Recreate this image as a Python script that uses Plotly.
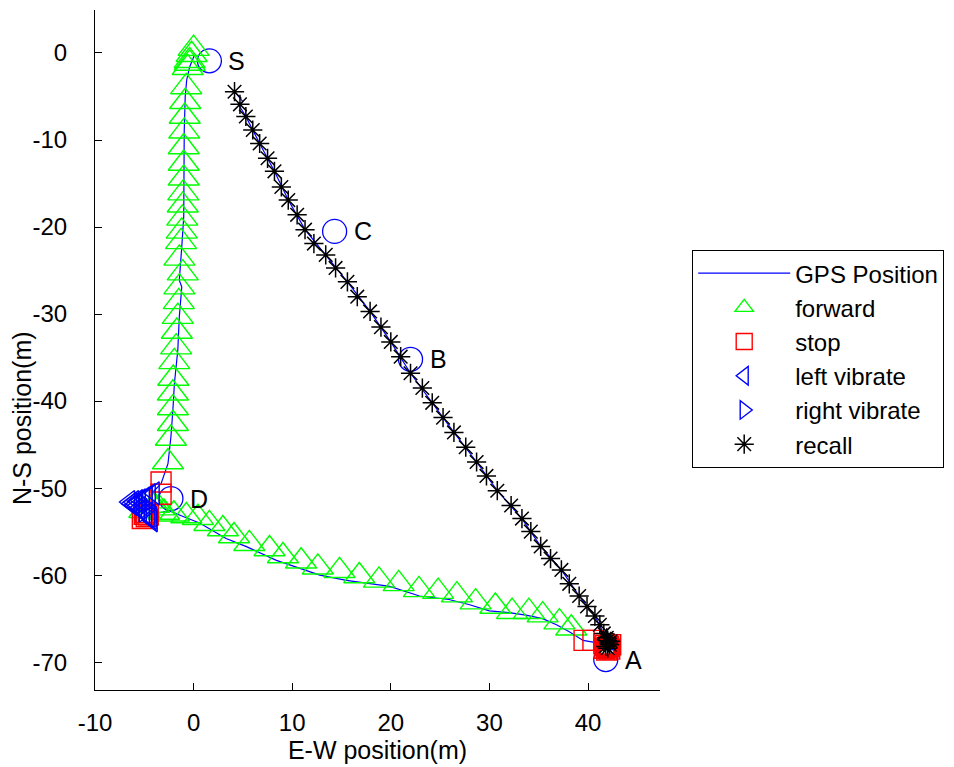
import plotly.graph_objects as go

# ---------------- data (metres) ----------------
gps_x = [0.1, -0.4, -0.7, -0.85, -0.95, -0.95, -1.0, -1.2, -1.45, -1.2, -1.45, -1.6, -1.95, -2.1,
         -2.3, -2.6, -3.3, -4.0, -4.6, -5.2, -5.0, -4.2, -3.3, -2.5, -1.0, 0.6, 3.3, 5.3, 8.4, 10.0,
         12.8, 15.5, 17.8, 19.9, 22.9, 25.9, 28.0, 30.0, 32.0, 33.7, 35.4, 36.8, 38.1, 39.5, 40.5,
         41.5, 42.0, 42.2, 41.6, 40.7, 39.1, 37.3, 35.2, 33.3, 30.8, 28.7, 26.4, 24.2, 22.0, 20.0,
         17.9, 15.6, 13.4, 11.3, 9.6, 8.2, 6.7, 5.3, 4.6, 5.0, 4.15]
gps_y = [-0.2, -1.6, -3.1, -5.0, -8.9, -14.6, -18.8, -22.3, -26.1, -26.9, -30.3, -34.1, -38.0, -41.0,
         -44.1, -47.2, -49.5, -50.3, -51.2, -52.2, -53.0, -53.0, -52.8, -52.6, -53.3, -54.0, -55.8, -56.7, -58.3, -58.9,
         -60.0, -60.6, -61.0, -61.3, -62.4, -62.8, -63.4, -64.1, -64.3, -64.6, -65.0, -65.7, -66.5, -67.5, -67.7,
         -68.0, -68.3, -68.0, -66.7, -64.7, -62.4, -59.4, -56.7, -53.5, -50.3, -47.0, -43.6, -40.2, -36.8, -33.2,
         -29.7, -26.3, -23.2, -20.3, -16.9, -13.6, -10.4, -7.3, -6.0, -5.6, -4.45]

forward_x = [0.0, -0.2, -0.4, -0.4, -0.6, -0.75, -0.85, -0.9, -0.95, -1.0, -1.0, -1.0, -1.05, -1.1,
             -1.15, -1.2, -1.27, -1.44, -1.1, -1.44, -1.5, -1.6, -1.7, -1.77, -1.96, -2.06, -2.1,
             -2.1, -2.1, -2.3, -2.6,
             -4.5, -4.0, -3.5, -5.0, -3.0, -2.0, -0.74, 0.44, 1.6, 2.97, 4.1, 5.65, 7.7, 9.06, 10.9,
             12.6, 14.8, 16.8, 18.8, 20.8, 22.85, 24.8, 26.7, 28.6, 30.6, 32.3, 34.0, 35.4, 37.1, 38.3]
forward_y = [0.5, -0.2, -0.9, -1.2, -1.7, -3.9, -5.6, -7.3, -9.0, -10.8, -12.7, -14.4, -16.1, -17.5,
             -19.0, -20.5, -21.7, -23.6, -25.3, -26.9, -28.6, -30.3, -32.0, -33.8, -35.5, -37.4, -39.1,
             -40.8, -42.6, -44.3, -47.0,
             -51.5, -52.0, -52.3, -52.6, -52.8, -53.0, -53.2, -53.4, -54.1, -54.7, -55.5, -56.4, -57.0, -57.8, -58.4,
             -59.1, -59.5, -60.1, -60.6, -61.0, -61.7, -61.9, -62.3, -63.1, -63.6, -64.2, -64.2, -64.6, -65.4, -66.1]

stop_x = [-3.3, -3.3, -5.0, -4.8, -5.2, -4.6, -4.9,
          39.6, 40.5, 41.6, 41.8, 42.0, 42.2, 41.9, 42.1, 41.7, 42.3]
stop_y = [-49.3, -50.7, -53.0, -53.3, -53.5, -53.1, -52.8,
          -67.5, -67.5, -67.9, -68.1, -68.3, -68.5, -68.6, -68.2, -68.4, -68.0]

left_x = [-6.5, -6.3, -6.0, -5.8, -5.5, -5.3, -5.0, -4.8, -4.5, -4.3, -4.2, -4.0, -4.4, -4.7,
          -5.0, -5.4, -5.7, -6.1]
left_y = [-51.6, -51.8, -51.95, -52.1, -52.3, -52.5, -52.8, -53.0, -53.2, -53.45, -53.7, -50.6,
          -50.8, -51.0, -51.2, -51.4, -51.5, -51.6]

right_x = [-5.0]
right_y = [-52.6]

recall_x = [4.15, 4.7, 5.3, 6.0, 6.7, 7.5, 8.2, 8.9, 9.6, 10.5, 11.3, 12.2, 13.4, 14.4, 15.6, 16.6,
            17.9, 19.0, 20.0, 21.0, 22.0, 23.2, 24.2, 25.3, 26.4, 27.6, 28.7, 29.7, 30.8, 32.2, 33.3,
            34.2, 35.2, 36.2, 37.3, 38.1, 39.1, 39.9, 40.7, 41.2, 41.6, 42.0, 42.2, 41.9, 42.1, 41.8,
            42.3, 42.0]
recall_y = [-4.45, -5.9, -7.3, -8.85, -10.4, -12.1, -13.6, -15.4, -16.9, -18.6, -20.3, -21.9, -23.2,
            -24.7, -26.3, -28.0, -29.7, -31.5, -33.2, -34.9, -36.8, -38.5, -40.2, -41.9, -43.6, -45.3,
            -47.0, -48.6, -50.3, -52.0, -53.5, -55.0, -56.7, -58.1, -59.4, -61.0, -62.4, -63.6, -64.7,
            -65.7, -66.7, -67.5, -68.0, -67.2, -67.8, -68.2, -67.6, -68.4]

wp_x = [1.6, 14.3, 22.0, 41.8, -2.3]
wp_y = [-0.9, -20.5, -35.2, -69.7, -51.2]
wp_labels = ["S", "C", "B", "A", "D"]

x_ticks = [-10, 0, 10, 20, 30, 40]
x_ticktext = ["-10", "0", "10", "20", "30", "40"]
y_ticks = [0, -10, -20, -30, -40, -50, -60, -70]
y_ticktext = ["0", "-10", "-20", "-30", "-40", "-50", "-60", "-70"]

# ---------------- figure ----------------
FONT = "Liberation Sans, Arial, sans-serif"
fig = go.Figure()

fig.add_trace(go.Scatter(x=gps_x, y=gps_y, mode="lines", name="GPS Position",
                         line=dict(color="#0000FF", width=1.2)))
fig.add_trace(go.Scatter(x=wp_x, y=wp_y, mode="markers", showlegend=False,
                         marker=dict(symbol="circle-open", size=24,
                                     line=dict(color="#0000FF", width=1.3), color="#0000FF")))
fig.add_trace(go.Scatter(x=forward_x, y=forward_y, mode="markers", name="forward",
                         marker=dict(symbol="triangle-up-open", size=27, color="#00FF00",
                                     line=dict(color="#00FF00", width=1.4))))
fig.add_trace(go.Scatter(x=stop_x, y=stop_y, mode="markers", name="stop",
                         marker=dict(symbol="square-open", size=20, color="#FF0000",
                                     line=dict(color="#FF0000", width=1.4))))
fig.add_trace(go.Scatter(x=left_x, y=left_y, mode="markers", name="left vibrate",
                         marker=dict(symbol="triangle-left-open", size=20, color="#0000FF",
                                     line=dict(color="#0000FF", width=1.4))))
fig.add_trace(go.Scatter(x=right_x, y=right_y, mode="markers", name="right vibrate",
                         marker=dict(symbol="triangle-right-open", size=20, color="#0000FF",
                                     line=dict(color="#0000FF", width=1.4))))
fig.add_trace(go.Scatter(x=recall_x, y=recall_y, mode="markers", name="recall",
                         marker=dict(symbol="asterisk-open", size=16, color="#000000",
                                     line=dict(color="#000000", width=1.5))))

for lx, ly, lt in zip(wp_x, wp_y, wp_labels):
    fig.add_annotation(x=lx, y=ly, text=lt, showarrow=False, xanchor="left", yanchor="middle",
                       xshift=17, font=dict(family=FONT, size=25, color="#000000"))

# y-axis title placed as in the reference (slightly below axis centre)
fig.add_annotation(xref="paper", yref="paper", x=-0.129, y=0.40, text="N-S position(m)",
                   textangle=-90, showarrow=False, xanchor="center", yanchor="middle",
                   font=dict(family=FONT, size=25, color="#000000"))

fig.update_layout(
    width=954, height=767,
    margin=dict(l=95, r=294, t=10, b=77, autoexpand=False),
    paper_bgcolor="white", plot_bgcolor="white",
    font=dict(family=FONT, size=24, color="#000000"),
    legend=dict(x=1.057, y=0.647, xanchor="left", yanchor="top",
                bgcolor="white", bordercolor="#000000", borderwidth=1,
                font=dict(family=FONT, size=24, color="#000000"),
                itemwidth=92, tracegroupgap=0),
    xaxis=dict(range=[-10, 47.3], tickvals=x_ticks, ticktext=x_ticktext, ticks="inside", ticklen=7,
               tickcolor="#000000", showline=True, linecolor="#000000", linewidth=1,
               showgrid=False, zeroline=False, mirror=False, ticklabelstandoff=11,
               title=dict(text="E-W position(m)", font=dict(family=FONT, size=25), standoff=2)),
    yaxis=dict(range=[-73.2, 4.94], tickvals=y_ticks, ticktext=y_ticktext, ticks="inside", ticklen=7,
               tickcolor="#000000", showline=True, linecolor="#000000", linewidth=1,
               showgrid=False, zeroline=False, mirror=False, ticklabelstandoff=22),
)

fig.write_html("out.html")
